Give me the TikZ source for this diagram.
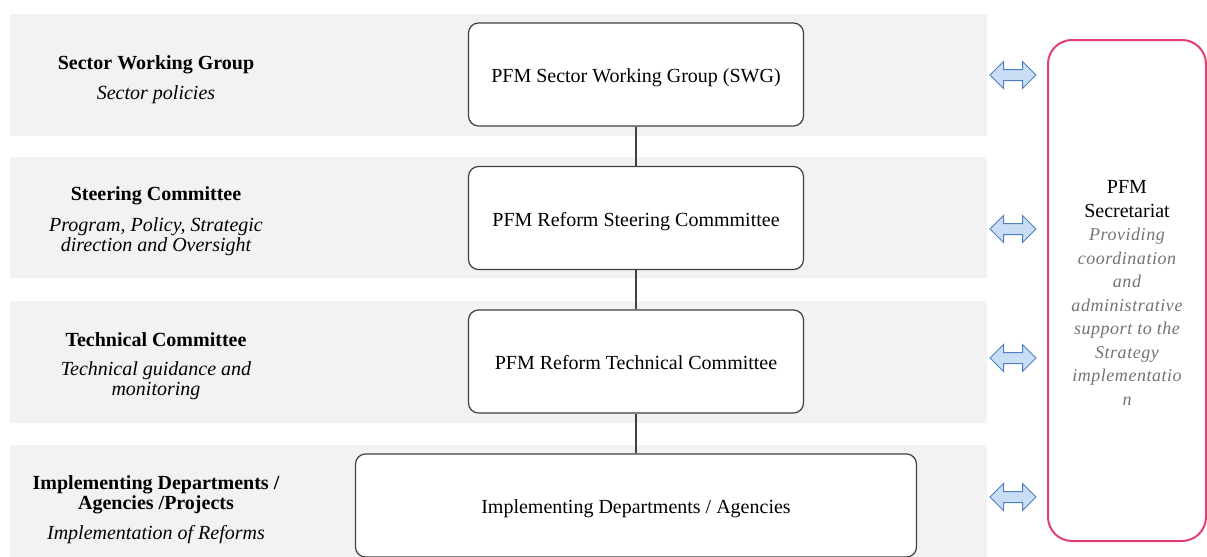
\documentclass[tikz,border=0pt]{standalone}
\usepackage{fontspec}
\newfontfamily\pfmfont{Liberation Serif}
\usetikzlibrary{shapes.arrows}
\definecolor{band}{HTML}{F2F2F2}
\definecolor{secred}{HTML}{E0406E}
\definecolor{arrfill}{HTML}{C9DEF5}
\definecolor{arrline}{HTML}{4F7FBF}
\newcommand\secnote[1]{{\color{black!55}\itshape\fontsize{9}{11.75}\selectfont\addfontfeature{LetterSpace=3}#1}}

\begin{document}
\begin{tikzpicture}[x=0.5pt,y=-0.5pt,
  level/.style={draw=black!75, line width=0.6pt, rounded corners=5pt, fill=white, minimum width=167.5pt, minimum height=51.5pt, text height=10pt, text depth=2pt, font=\pfmfont\fontsize{10}{12}\selectfont},
  title/.style={font=\pfmfont\fontsize{10}{10}\selectfont\bfseries, align=center},
  remit/.style={font=\pfmfont\fontsize{10}{10}\selectfont\itshape, align=center},
  link/.style={double arrow, draw=arrline, fill=arrfill, line width=0.5pt, inner xsep=0pt, inner ysep=2.5pt, minimum height=23pt, double arrow head extend=4pt}]
\useasboundingbox (0,0) rectangle (1207,557);
\fill[band] (10,14) rectangle (987,136);
\fill[band] (10,157) rectangle (987,278);
\fill[band] (10,301) rectangle (987,423);
\fill[band] (10,445) rectangle (987,557);

\node[level] (swg) at (636,74.5) {PFM Sector Working Group (SWG)};
\node[level] (steer) at (636,218) {PFM Reform Steering Commmittee};
\node[level] (tech) at (636,361.5) {PFM Reform Technical Committee};
\node[level, minimum width=280.5pt] (impl) at (636,505.5) {Implementing Departments / Agencies};
\draw[black!75, line width=0.6pt] (swg) -- (steer);
\draw[black!75, line width=0.6pt] (steer) -- (tech);
\draw[black!75, line width=0.6pt] (tech) -- (impl);

\node[title] (swgT) at (156,65) {Sector Working Group};
\node[remit] (swgR) at (156,95) {Sector policies};
\node[title] (steerT) at (156,196) {Steering Committee};
\node[remit] (steerR) at (156,237) {Program, Policy, Strategic\\direction and Oversight};
\node[title] (techT) at (156,340) {Technical Committee};
\node[remit] (techR) at (156,380.5) {Technical guidance and\\monitoring};
\node[title] (implT) at (156,494.5) {Implementing Departments /\\Agencies /Projects};
\node[remit] (implR) at (156,535) {Implementation of Reforms};

\node[draw=secred, line width=1pt, rounded corners=12pt, minimum width=79pt, minimum height=250.5pt] (sec) at (1127,290.5) {};
\node[align=center, font=\pfmfont\fontsize{10}{11.75}\selectfont] (secT) at (1127,293) {PFM\\Secretariat\\\secnote{Providing}\\\secnote{coordination}\\\secnote{and}\\\secnote{administrative}\\\secnote{support to the}\\\secnote{Strategy}\\\secnote{implementatio}\\\secnote{n}};

\node[link] (a1) at (1013,75) {};
\node[link] (a2) at (1013,229) {};
\node[link] (a3) at (1013,358) {};
\node[link] (a4) at (1013,497) {};
\end{tikzpicture}
\end{document}
